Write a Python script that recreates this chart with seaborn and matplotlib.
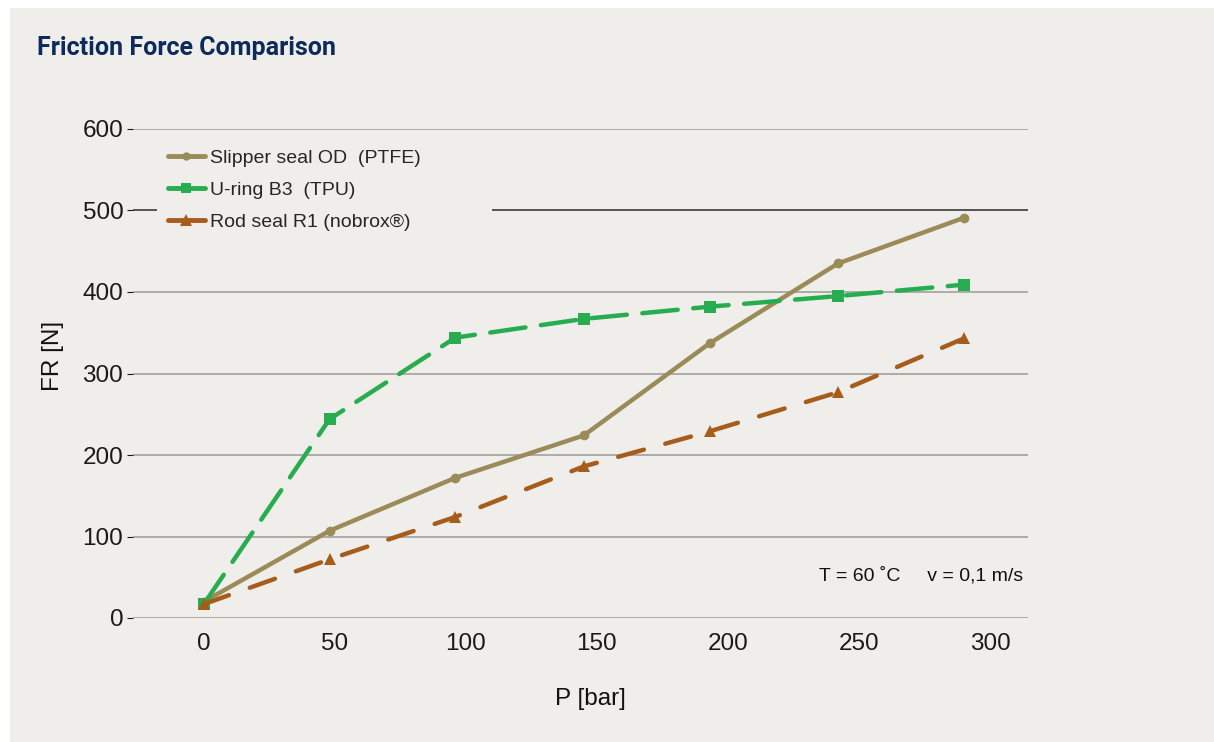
import seaborn as sns
import pandas as pd
import matplotlib.pyplot as plt
from matplotlib.patches import Rectangle
from matplotlib.lines import Line2D

sns.set_style("white")
plt.rcParams["font.family"] = ["Liberation Sans", "DejaVu Sans"]

# values
pressure = [0, 48, 96, 145, 193, 242, 290]
slipper = [20, 107, 172, 224, 337, 435, 491]
uring = [17, 244, 344, 367, 382, 395, 409]
rodseal = [17, 72, 124, 186, 229, 277, 343]
series = ["Slipper seal OD  (PTFE)", "U-ring B3  (TPU)", "Rod seal R1 (nobrox\u00ae)"]
yticks = [0, 100, 200, 300, 400, 500, 600]
xticks = [0, 50, 100, 150, 200, 250, 300]

df = pd.DataFrame({
    "P": pressure * 3,
    "FR": slipper + uring + rodseal,
    "seal": [series[0]] * 7 + [series[1]] * 7 + [series[2]] * 7,
})

colors = {series[0]: "#9a8b58", series[1]: "#27ad4f", series[2]: "#a65d1c"}
markers = {series[0]: "o", series[1]: "s", series[2]: "^"}
dashes = {series[0]: "", series[1]: (8, 3.5), series[2]: (6, 5)}
msize = {series[0]: 7, series[1]: 8, series[2]: 9}

bg = "#efeeea"
fig = plt.figure(figsize=(12.14, 7.42), dpi=100, facecolor="white")
panel = Rectangle((10 / 1214, 0), 1 - 10 / 1214, 1 - 8 / 742,
                  transform=fig.transFigure, facecolor=bg, edgecolor="none", zorder=-10)
fig.add_artist(panel)
ax = fig.add_axes([133 / 1214, 1 - 618 / 742, (1028 - 133) / 1214, (618 - 129) / 742])
ax.set_facecolor("none")

for s in series:
    sub = df[df["seal"] == s]
    sns.lineplot(data=sub, x="P", y="FR", ax=ax, color=colors[s], marker=markers[s],
                 markersize=msize[s], markeredgewidth=0, linewidth=3.2,
                 dashes=False, legend=False, zorder=3)
    line = ax.get_lines()[-1]
    if dashes[s]:
        line.set_dashes(dashes[s])
    line.set_solid_capstyle("round")
    line.set_dash_capstyle("round")

ax.set_xlim(-27, 314.5)
ax.set_ylim(0, 600)
ax.set_xticks(xticks)
ax.set_yticks(yticks)
ax.tick_params(axis="x", length=0, labelsize=17.5, pad=11, colors="#1a1a1a")
ax.tick_params(axis="y", length=4, width=0.8, labelsize=17.5, pad=3, colors="#1a1a1a",
               left=True)
ax.grid(axis="y", color="#a9a7a2", linewidth=1.3)
ax.get_ygridlines()[5].set_color("#2a2a2a")
ax.get_ygridlines()[5].set_linewidth(1.1)
for sp in ax.spines.values():
    sp.set_visible(False)
ax.set_axisbelow(True)

# legend background hides part of the 500 line
ax.add_patch(Rectangle((0.0268, 0.80), 0.374, 0.06, transform=ax.transAxes,
                       facecolor=bg, edgecolor="none", zorder=1))

ax.set_xlabel("P [bar]", fontsize=17.5, color="#111111")
ax.set_ylabel("FR [N]", fontsize=17.5, color="#111111")
ax.xaxis.set_label_coords(0.5106, -0.143)
ax.yaxis.set_label_coords(-0.077, 0.536)

handles = [Line2D([], [], color=colors[s], marker=markers[s], markersize=msize[s] - 1,
                  markeredgewidth=0, linewidth=3.5) for s in series]
leg = ax.legend(handles, series, loc="upper left", bbox_to_anchor=(0.039, 0.959),
                fontsize=14, frameon=False, handlelength=1.9, handletextpad=0.25,
                labelspacing=0.75, borderpad=0, borderaxespad=0)
leg.set_zorder(5)

ax.text(0.995, 0.086, "T = 60 \u02daC     v = 0,1 m/s", transform=ax.transAxes,
        ha="right", va="center", fontsize=14, color="#111111")

fig.text(37 / 1214, 1 - 48 / 742, "Friction Force Comparison", fontsize=18,
         fontweight="bold", color="#0c2a5a", family=["Roboto", "DejaVu Sans"],
         va="center", ha="left")

fig.savefig("out.png", dpi=100, facecolor="white")
